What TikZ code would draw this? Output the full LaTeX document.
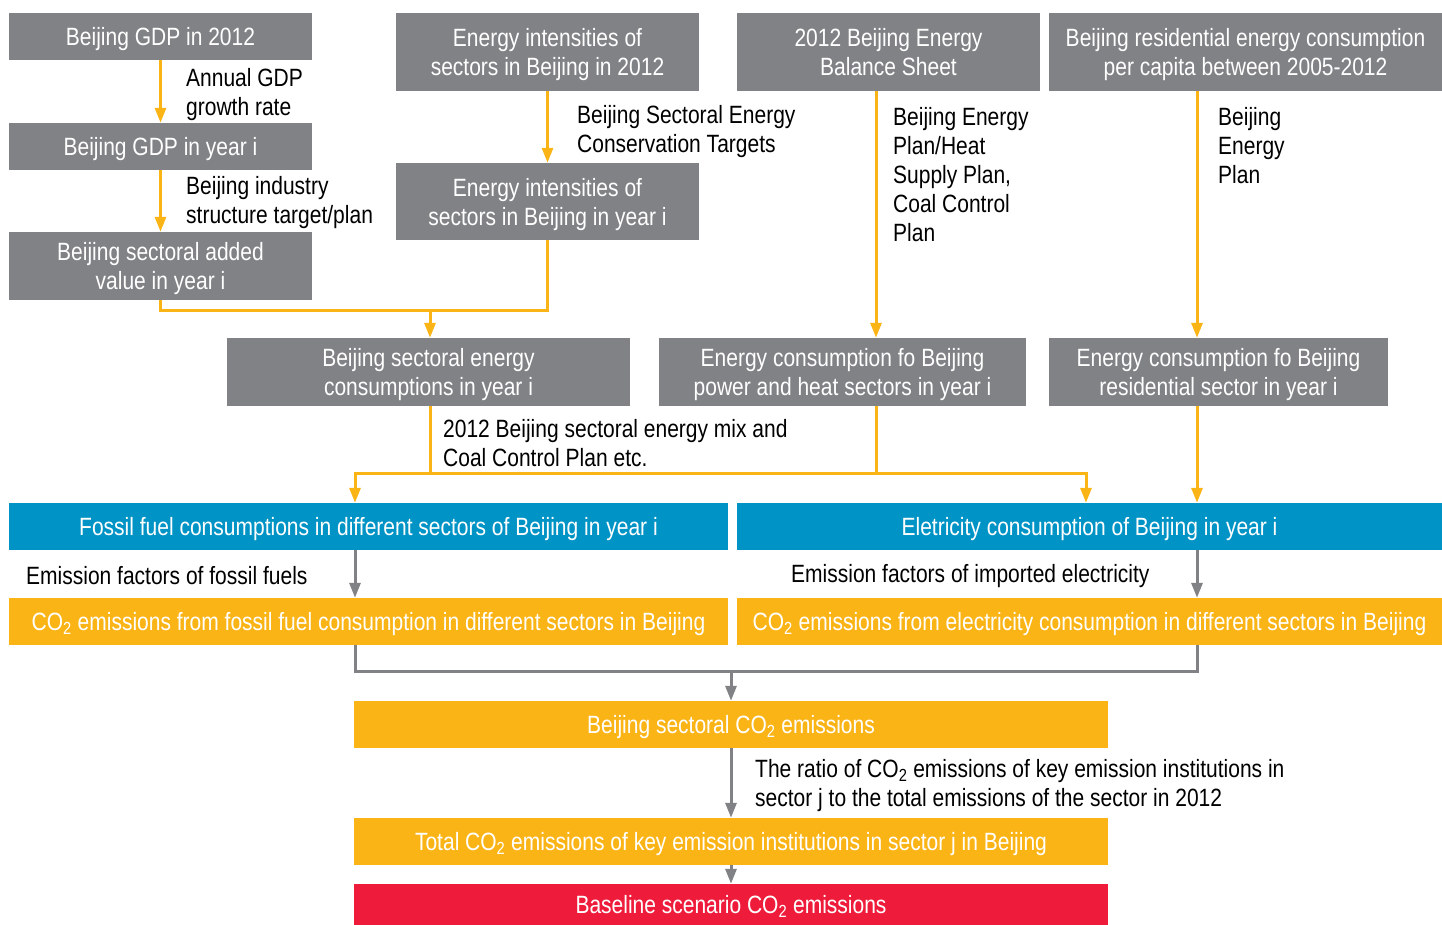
\documentclass[tikz,border=0pt]{standalone}
\usepackage{fontspec}
\usepackage{xcolor}
\setmainfont[FakeStretch=0.84]{Liberation Sans}
\usetikzlibrary{arrows.meta}

\definecolor{boxgray}{HTML}{808285}
\definecolor{fuelblue}{HTML}{0093C5}
\definecolor{emitorange}{HTML}{FBB416}
\definecolor{basered}{HTML}{EE1C3A}

\tikzset{
  txt/.style={font=\fontsize{25}{29}\selectfont},
  box/.style={txt,fill=#1,text=white,inner sep=0pt,align=center,text depth=0pt},
  note/.style={txt,anchor=west,align=left,inner sep=0pt},
  oarr/.style={draw=emitorange,line width=3pt,-{Triangle[length=15pt,width=11pt]}},
  oline/.style={draw=emitorange,line width=3pt},
  garr/.style={draw=boxgray,line width=3pt,-{Triangle[length=15pt,width=11pt]}},
  gline/.style={draw=boxgray,line width=3pt}
}

\begin{document}
\begin{tikzpicture}[x=1pt,y=-1pt]
\useasboundingbox (0,0) rectangle (1442,925);

% grey input boxes
\node[box=boxgray,minimum width=303,minimum height=47] (gdp12) at (160.5,36.5) {Beijing GDP in 2012};
\node[box=boxgray,minimum width=303,minimum height=47] (gdpi) at (160.5,146.5) {Beijing GDP in year i};
\node[box=boxgray,minimum width=303,minimum height=68] (addval) at (160.5,266) {Beijing sectoral added\\value in year i};
\node[box=boxgray,minimum width=303,minimum height=78] (int12) at (547.5,52) {Energy intensities of\\sectors in Beijing in 2012};
\node[box=boxgray,minimum width=303,minimum height=77] (inti) at (547.5,201.5) {Energy intensities of\\sectors in Beijing in year i};
\node[box=boxgray,minimum width=303,minimum height=78] (balance) at (888.5,52) {2012 Beijing Energy\\Balance Sheet};
\node[box=boxgray,minimum width=393,minimum height=78] (respc) at (1245.5,52) {Beijing residential energy consumption\\per capita between 2005-2012};
\node[box=boxgray,minimum width=403,minimum height=68] (secen) at (428.5,372) {Beijing sectoral energy\\consumptions in year i};
\node[box=boxgray,minimum width=367,minimum height=68] (power) at (842.5,372) {Energy consumption fo Beijing\\power and heat sectors in year i};
\node[box=boxgray,minimum width=339,minimum height=68] (ressec) at (1218.5,372) {Energy consumption fo Beijing\\residential sector in year i};

% blue, orange and red boxes
\node[box=fuelblue,minimum width=719,minimum height=47] (fossil) at (368.5,526.5) {Fossil fuel consumptions in different sectors of Beijing in year i};
\node[box=fuelblue,minimum width=705,minimum height=47] (elec) at (1089.5,526.5) {Eletricity consumption of Beijing in year i};
\node[box=emitorange,minimum width=719,minimum height=47] (co2fossil) at (368.5,621.5) {CO\textsubscript{2} emissions from fossil fuel consumption in different sectors in Beijing};
\node[box=emitorange,minimum width=705,minimum height=47] (co2elec) at (1089.5,621.5) {CO\textsubscript{2} emissions from electricity consumption in different sectors in Beijing};
\node[box=emitorange,minimum width=754,minimum height=47] (secco2) at (731,724.5) {Beijing sectoral CO\textsubscript{2} emissions};
\node[box=emitorange,minimum width=754,minimum height=47] (keyco2) at (731,841.5) {Total CO\textsubscript{2} emissions of key emission institutions in sector j in Beijing};
\node[box=basered,minimum width=754,minimum height=41] (baseline) at (731,904.5) {Baseline scenario CO\textsubscript{2} emissions};

% notes beside the arrows
\node[note] (n1) at (186,95) {Annual GDP\\growth rate};
\node[note] (n2) at (186,203) {Beijing industry\\structure target/plan};
\node[note] (n3) at (577,132) {Beijing Sectoral Energy\\Conservation Targets};
\node[note] (n4) at (893,175) {Beijing Energy\\Plan/Heat\\Supply Plan,\\Coal Control\\Plan};
\node[note] (n5) at (1218,146) {Beijing\\Energy\\Plan};
\node[note] (n6) at (443,443) {2012 Beijing sectoral energy mix and\\Coal Control Plan etc.};
\node[note] (n7) at (26,576) {Emission factors of fossil fuels};
\node[note] (n8) at (791,576) {Emission factors of imported electricity};
\node[note] (n9) at (755,786) {The ratio of CO\textsubscript{2} emissions of key emission institutions in\\sector j to the total emissions of the sector in 2012};

% junctions
\coordinate (jval) at (430,310);
\coordinate (jsec) at (430,473);
\coordinate (jpow) at (876,473);
\coordinate (xfos) at (355,473);
\coordinate (xele) at (1086,473);
\coordinate (xres) at (1197,473);
\coordinate (jco2) at (731,671);

% orange connectors
\draw[oarr] (gdp12) -- (gdpi);
\draw[oarr] (gdpi) -- (addval);
\draw[oarr] (int12) -- (inti);
\draw[oline] (addval.south) |- (jval) -| (inti.south);
\draw[oarr] (jval) -- (jval |- secen.north);
\draw[oarr] (balance.south -| jpow) -- (power.north -| jpow);
\draw[oarr] (respc.south -| xres) -- (ressec.north -| xres);
\draw[oarr] (ressec.south -| xres) -- (elec.north -| xres);
\draw[oarr] (secen.south -| jsec) -- (jsec) -| (fossil.north -| xfos);
\draw[oarr] (power.south -| jpow) -- (jpow) -| (elec.north -| xele);
\draw[oline] (jsec) -- (jpow);

% grey connectors
\draw[garr] (fossil.south -| xfos) -- (co2fossil.north -| xfos);
\draw[garr] (elec.south -| xres) -- (co2elec.north -| xres);
\draw[gline] (co2fossil.south -| xfos) |- (jco2) -| (co2elec.south -| xres);
\draw[garr] (jco2) -- (secco2.north);
\draw[garr] (secco2) -- (keyco2);
\draw[garr] (keyco2) -- (baseline);
\end{tikzpicture}
\end{document}
